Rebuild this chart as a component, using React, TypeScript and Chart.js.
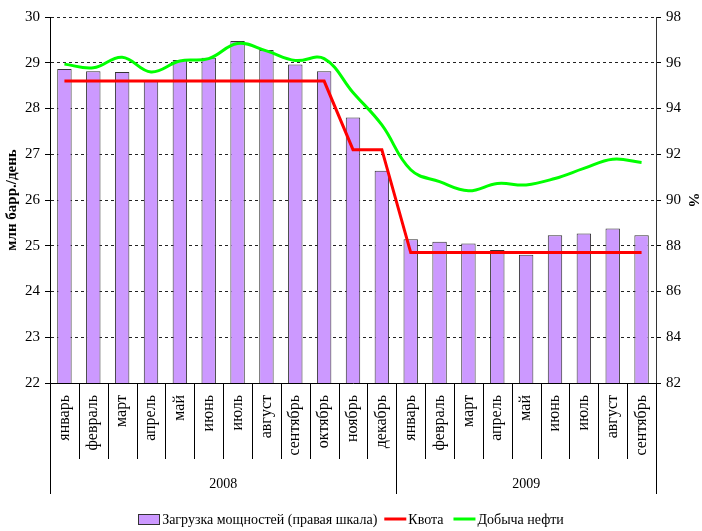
import React, { useEffect, useRef } from 'react';
import { Chart, registerables } from 'chart.js';

Chart.register(...registerables);

const months = [
  'январь', 'февраль', 'март', 'апрель', 'май', 'июнь', 'июль', 'август', 'сентябрь', 'октябрь', 'ноябрь', 'декабрь',
  'январь', 'февраль', 'март', 'апрель', 'май', 'июнь', 'июль', 'август', 'сентябрь',
];
const years = ['2008', '2009'];
const yearSpans = [12, 9];

// Загрузка мощностей, % (правая шкала)
const capacityLoad = [
  95.73, 95.63, 95.6, 95.23, 96.12, 96.22, 96.95, 96.56, 95.92, 95.63, 93.61, 91.28,
  88.28, 88.18, 88.1, 87.81, 87.61, 88.46, 88.54, 88.75, 88.46,
];
// Квота, млн барр./день
const quota = [
  28.6, 28.6, 28.6, 28.6, 28.6, 28.6, 28.6, 28.6, 28.6, 28.6, 27.1, 27.1,
  24.85, 24.85, 24.85, 24.85, 24.85, 24.85, 24.85, 24.85, 24.85,
];
// Добыча нефти, млн барр./день
const production = [
  28.97, 28.89, 29.12, 28.8, 29.04, 29.09, 29.42, 29.26, 29.05, 29.09, 28.35, 27.64,
  26.66, 26.4, 26.2, 26.36, 26.33, 26.47, 26.69, 26.89, 26.82,
];

const leftMin = 22;
const leftMax = 30;
const rightMin = 82;
const rightMax = 98;

const legendItems = ['Загрузка мощностей (правая шкала)', 'Квота', 'Добыча нефти'];

const SERIF = "'Liberation Serif', 'Times New Roman', serif";
const BAR_COLOR = '#CC99FF';
const QUOTA_COLOR = '#FF0000';
const PROD_COLOR = '#00FF00';

const decorPlugin = {
  id: 'decor',
  afterDraw(chart: any) {
    const { ctx, chartArea } = chart;
    const x = chart.scales.x;
    const n = months.length;
    const snap = (v: number) => Math.round(v) + 0.5;
    const boundary = (k: number) => {
      if (k <= 0) return x.left;
      if (k >= n) return x.right;
      return (x.getPixelForValue(k - 1) + x.getPixelForValue(k)) / 2;
    };
    const yearBounds = new Set<number>([0]);
    let acc = 0;
    yearSpans.forEach((s) => { acc += s; yearBounds.add(acc); });

    ctx.save();
    ctx.strokeStyle = '#000';
    ctx.lineWidth = 1;
    ctx.beginPath();
    for (let k = 0; k <= n; k++) {
      const px = snap(boundary(k));
      const len = yearBounds.has(k) ? 111 : 76;
      ctx.moveTo(px, chartArea.bottom);
      ctx.lineTo(px, chartArea.bottom + len);
    }
    ctx.stroke();

    // year labels
    ctx.fillStyle = '#000';
    ctx.font = `14px ${SERIF}`;
    ctx.textAlign = 'center';
    ctx.textBaseline = 'middle';
    let start = 0;
    years.forEach((yr, i) => {
      const end = start + yearSpans[i];
      const cx = (boundary(start) + boundary(end)) / 2;
      ctx.fillText(yr, cx, chartArea.bottom + 101);
      start = end;
    });

    // legend
    ctx.font = `14px ${SERIF}`;
    ctx.textAlign = 'left';
    const ly = chart.height - 11;
    const boxW = 21;
    const lineW = 22;
    const w0 = ctx.measureText(legendItems[0]).width;
    const w1 = ctx.measureText(legendItems[1]).width;
    const w2 = ctx.measureText(legendItems[2]).width;
    const total = boxW + 3 + w0 + 7 + lineW + 2 + w1 + 10 + lineW + 2 + w2;
    let lx = chart.width / 2 - total / 2;
    ctx.fillStyle = BAR_COLOR;
    ctx.fillRect(Math.round(lx) + 0.5, ly - 5.5, boxW, 10);
    ctx.strokeStyle = '#333';
    ctx.strokeRect(Math.round(lx) + 0.5, ly - 5.5, boxW, 10);
    lx += boxW + 3;
    ctx.fillStyle = '#000';
    ctx.fillText(legendItems[0], lx, ly);
    lx += w0 + 7;
    ctx.lineWidth = 3;
    ctx.strokeStyle = QUOTA_COLOR;
    ctx.beginPath();
    ctx.moveTo(lx, ly - 1);
    ctx.lineTo(lx + lineW, ly - 1);
    ctx.stroke();
    lx += lineW + 2;
    ctx.fillText(legendItems[1], lx, ly);
    lx += w1 + 10;
    ctx.strokeStyle = PROD_COLOR;
    ctx.beginPath();
    ctx.moveTo(lx, ly - 1);
    ctx.lineTo(lx + lineW, ly - 1);
    ctx.stroke();
    lx += lineW + 2;
    ctx.fillText(legendItems[2], lx, ly);
    ctx.restore();
  },
};

export default function App() {
  const canvasRef = useRef<HTMLCanvasElement | null>(null);

  useEffect(() => {
    if (!canvasRef.current) return;
    const chart = new Chart(canvasRef.current, {
      type: 'bar',
      data: {
        labels: months,
        datasets: [
          {
            type: 'line',
            label: legendItems[1],
            data: quota,
            yAxisID: 'y',
            borderColor: QUOTA_COLOR,
            backgroundColor: QUOTA_COLOR,
            borderWidth: 3,
            pointRadius: 0,
            tension: 0,
            order: 2,
          },
          {
            type: 'line',
            label: legendItems[2],
            data: production,
            yAxisID: 'y',
            borderColor: PROD_COLOR,
            backgroundColor: PROD_COLOR,
            borderWidth: 3,
            pointRadius: 0,
            tension: 0.4,
            order: 1,
          },
          {
            type: 'bar',
            label: legendItems[0],
            data: capacityLoad,
            yAxisID: 'y1',
            backgroundColor: BAR_COLOR,
            borderColor: '#333',
            borderWidth: 1,
            barPercentage: 0.5,
            categoryPercentage: 1,
            order: 3,
          },
        ],
      },
      options: {
        responsive: false,
        animation: false,
        layout: { padding: { top: 17, left: 0, right: 0, bottom: 0 } },
        plugins: {
          legend: { display: false },
          tooltip: { enabled: false },
        },
        scales: {
          x: {
            offset: true,
            grid: { display: false, drawTicks: false },
            border: { display: true, color: '#000', width: 1 },
            ticks: {
              color: '#000',
              font: { family: SERIF, size: 16 },
              minRotation: 90,
              maxRotation: 90,
              padding: 12,
              autoSkip: false,
            },
            afterFit: (scale: any) => { scale.height = 148; },
          },
          y: {
            position: 'left',
            min: leftMin,
            max: leftMax,
            ticks: {
              stepSize: 1,
              color: '#000',
              font: { family: SERIF, size: 15 },
              padding: 5,
            },
            grid: {
              color: (ctx: any) => (ctx.tick && ctx.tick.value === leftMin ? 'rgba(0,0,0,0)' : '#222'),
              lineWidth: 1,
              tickLength: 5,
              tickColor: '#000',
              tickBorderDash: [],
            },
            border: { display: true, color: '#000', width: 1, dash: [3, 3] },
            title: {
              display: true,
              text: 'млн барр./день',
              color: '#000',
              font: { family: SERIF, size: 15, weight: 'bold' },
              padding: { top: 3, bottom: 0 },
            },
            afterFit: (scale: any) => { scale.width = 50; },
          },
          y1: {
            position: 'right',
            min: rightMin,
            max: rightMax,
            ticks: {
              stepSize: 2,
              color: '#000',
              font: { family: SERIF, size: 15 },
              padding: 5,
            },
            grid: {
              drawOnChartArea: false,
              tickLength: 5,
              tickColor: '#000',
            },
            border: { display: true, color: '#333', width: 1 },
            title: {
              display: true,
              text: '%',
              color: '#000',
              font: { family: SERIF, size: 15, weight: 'bold' },
              padding: { top: 0, bottom: 0 },
            },
            afterFit: (scale: any) => { scale.width = 46; },
          },
        },
      } as any,
      plugins: [decorPlugin],
    });
    return () => chart.destroy();
  }, []);

  return (
    <div style={{ position: 'fixed', left: 0, top: 0, width: 702, height: 531, background: '#fff' }}>
      <canvas ref={canvasRef} width={702} height={531} style={{ display: 'block' }} />
    </div>
  );
}
